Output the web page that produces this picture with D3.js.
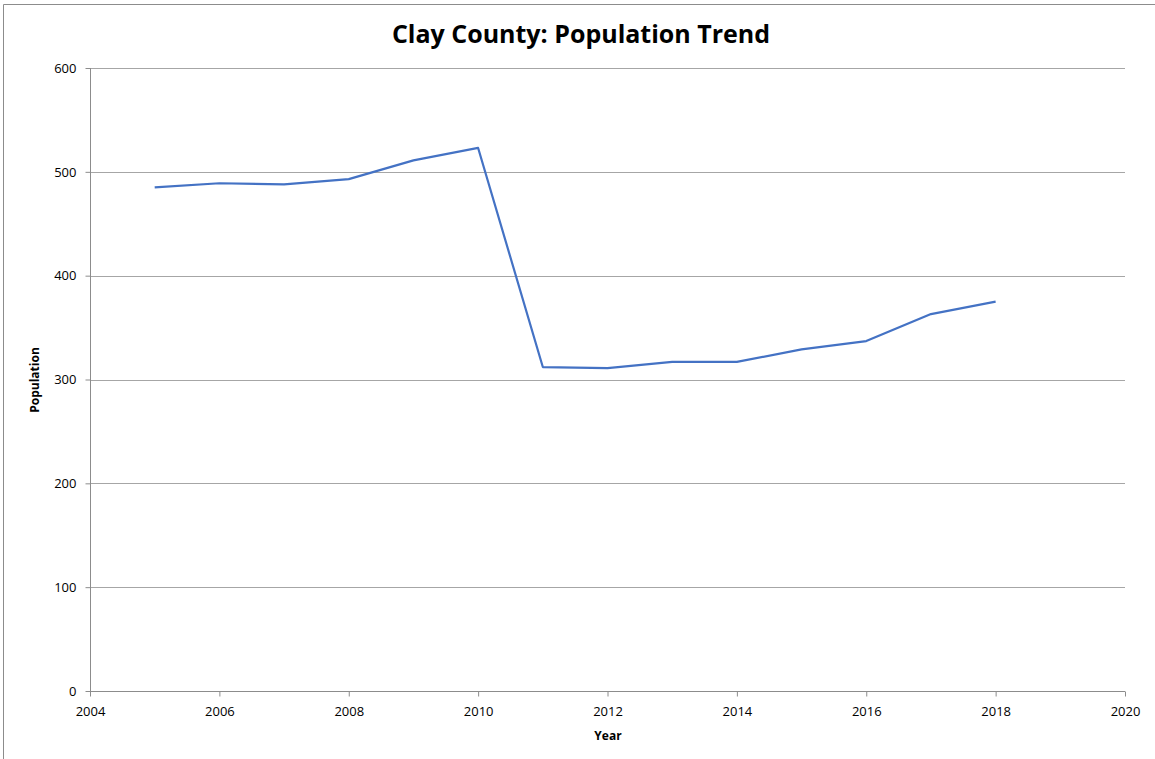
<!DOCTYPE html>
<html>
<head>
<meta charset="utf-8">
<script src="https://cdn.jsdelivr.net/npm/d3@7"></script>
<style>
  html, body { margin: 0; padding: 0; background: #fff; }
  svg { display: block; }
</style>
</head>
<body>
<svg id="chart" width="1155" height="759"></svg>
<script>
const years = [2005, 2006, 2007, 2008, 2009, 2010, 2011, 2012, 2013, 2014, 2015, 2016, 2017, 2018];
const population = [485, 489, 488, 493, 511, 523, 312, 311, 317, 317, 329, 337, 363, 375];
const xTicks = [2004, 2006, 2008, 2010, 2012, 2014, 2016, 2018, 2020];
const yTicks = [0, 100, 200, 300, 400, 500, 600];
const chartTitle = "Clay County: Population Trend";
const xTitle = "Year";
const yTitle = "Population";

const svg = d3.select("#chart");
const font = "'Open Sans', 'Liberation Sans', Arial, sans-serif";

// outer frame (top and left edges visible)
svg.append("line").attr("x1", 3.5).attr("x2", 1155).attr("y1", 4.5).attr("y2", 4.5)
  .attr("stroke", "#8c8c8c").attr("stroke-width", 1);
svg.append("line").attr("x1", 3.5).attr("x2", 3.5).attr("y1", 4.5).attr("y2", 759)
  .attr("stroke", "#8c8c8c").attr("stroke-width", 1);

const x = d3.scaleLinear().domain([2004, 2020]).range([90, 1125]);
const y = d3.scaleLinear().domain([0, 600]).range([691, 68]);

// gridlines
svg.append("g").selectAll("line").data(yTicks.filter(d => d > 0)).join("line")
  .attr("x1", 90).attr("x2", 1125)
  .attr("y1", d => Math.round(y(d)) + 0.5).attr("y2", d => Math.round(y(d)) + 0.5)
  .attr("stroke", "#a6a6a6").attr("stroke-width", 1);

// axes
const yAxis = d3.axisLeft(y).tickValues(yTicks).tickSize(5).tickPadding(9).tickFormat(d3.format("d"));
const xAxis = d3.axisBottom(x).tickValues(xTicks).tickSize(5).tickPadding(10).tickFormat(d3.format("d"));

const gy = svg.append("g").attr("transform", "translate(90.5,0)").call(yAxis);
const gx = svg.append("g").attr("transform", "translate(0,691.5)").call(xAxis);

[gx, gy].forEach(g => {
  g.select(".domain").attr("stroke", "#8c8c8c");
  g.selectAll(".tick line").attr("stroke", "#8c8c8c");
  g.selectAll(".tick text").attr("fill", "#000").style("font-family", font).style("font-size", "13px");
});
gx.select(".domain").attr("d", "M90,0H1125");
gy.select(".domain").attr("d", "M0,68V691");

// line
const line = d3.line().x((d, i) => x(years[i])).y(d => y(d));
svg.append("path").datum(population)
  .attr("d", line)
  .attr("fill", "none")
  .attr("stroke", "#4472C4")
  .attr("stroke-width", 2.2)
  .attr("stroke-linejoin", "round");

// titles
svg.append("text").attr("x", 581).attr("y", 43).attr("text-anchor", "middle")
  .style("font-family", font).style("font-weight", "bold").style("font-size", "25px")
  .attr("fill", "#000").text(chartTitle);

svg.append("text").attr("x", 608).attr("y", 740).attr("text-anchor", "middle")
  .style("font-family", font).style("font-weight", "bold").style("font-size", "12px")
  .attr("fill", "#000").text(xTitle);

svg.append("text").attr("transform", "translate(39,380) rotate(-90)").attr("text-anchor", "middle")
  .style("font-family", font).style("font-weight", "bold").style("font-size", "12px")
  .attr("fill", "#000").text(yTitle);
</script>
</body>
</html>
